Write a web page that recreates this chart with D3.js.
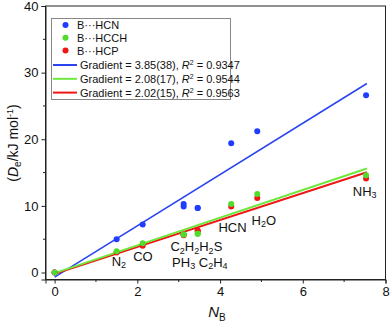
<!DOCTYPE html>
<html>
<head>
<meta charset="utf-8">
<script src="https://cdn.jsdelivr.net/npm/d3@7"></script>
<style>
  body { margin: 0; background: #fff; }
  text { font-family: "Liberation Sans", Arial, sans-serif; fill: #111; }
</style>
</head>
<body>
<script>
// values
var molecules = ["", "N2", "CO", "C2H2", "PH3", "H2S", "C2H4", "HCN", "H2O", "NH3"];
var nB = [0, 1.5, 2.13, 3.12, 3.12, 3.46, 3.46, 4.27, 4.9, 7.53];
var deHCN = [0, 5.0, 7.2, 10.3, 9.9, 9.7, 9.7, 19.4, 21.2, 26.6];
var deHCCH = [0, 3.2, 4.4, 5.7, 5.7, 5.8, 5.8, 10.3, 11.8, 14.6];
var deHCP = [0, 3.0, 4.0, 5.7, 5.6, 6.3, 6.2, 9.9, 11.2, 14.1];

var seriesNames = ["B\u00b7\u00b7\u00b7HCN", "B\u00b7\u00b7\u00b7HCCH", "B\u00b7\u00b7\u00b7HCP"];
var gradients = ["3.85(38)", "2.08(17)", "2.02(15)"];
var rSquared = ["0.9347", "0.9544", "0.9563"];
var slopes = [3.85, 2.08, 2.02];
var intercepts = [-0.7, -0.1, -0.2];
var fitRange = [0, 7.55];

var xTicks = [0, 2, 4, 6, 8];
var yTicks = [0, 10, 20, 30, 40];

// labels: text with _ for subscript, position in data units (baseline)
var labels = [
  { t: "N_2", x: 1.38, y: 1.0 },
  { t: "CO", x: 1.9, y: 1.7 },
  { t: "C_2H_2H_2S", x: 2.8, y: 3.2 },
  { t: "PH_3 C_2H_4", x: 2.84, y: 0.9 },
  { t: "HCN", x: 3.96, y: 6.1 },
  { t: "H_2O", x: 4.76, y: 7.2 },
  { t: "NH_3", x: 7.21, y: 11.5 }
];

var colors = ["#1f3cff", "#4fdc2a", "#f01616"];
var lineColors = ["#2a44f0", "#6ee83c", "#f01616"];
var lineWidths = [1.5, 2, 2];

var W = 390, H = 323;
var x = d3.scaleLinear().domain([-0.22, 8]).range([45.5, 385.5]);
var y = d3.scaleLinear().domain([-1.05, 40]).range([279.5, 6]);

var svg = d3.select("body").append("svg")
  .attr("width", W).attr("height", H);

// frame
svg.append("rect")
  .attr("x", x(-0.22)).attr("y", y(40))
  .attr("width", x(8) - x(-0.22)).attr("height", y(-1.05) - y(40))
  .attr("fill", "none").attr("stroke", "#222").attr("stroke-width", 1);

var xAxis = d3.axisBottom(x).tickValues(xTicks).tickSize(4).tickPadding(3).tickFormat(d3.format("d"));
var gx = svg.append("g").attr("transform", "translate(0," + y(-1.05) + ")").call(xAxis);
gx.append("g").selectAll("line").data([1, 3, 5, 7]).enter().append("line")
  .attr("x1", d => x(d)).attr("x2", d => x(d)).attr("y1", 0).attr("y2", 2.5)
  .attr("stroke", "#222");

var yAxis = d3.axisLeft(y).tickValues(yTicks).tickSize(4).tickPadding(3).tickFormat(d3.format("d"));
var gy = svg.append("g").attr("transform", "translate(" + x(-0.22) + ",0)").call(yAxis);
gy.append("g").selectAll("line").data([5, 15, 25, 35]).enter().append("line")
  .attr("y1", d => y(d)).attr("y2", d => y(d)).attr("x1", 0).attr("x2", -2.5)
  .attr("stroke", "#222");

svg.selectAll(".domain").attr("stroke", "#222");
svg.selectAll(".tick line").attr("stroke", "#222");
svg.selectAll(".tick text").style("font-size", "13px").style("font-family", "Liberation Sans, Arial, sans-serif").attr("fill", "#111");

// axis titles
var xt = svg.append("text").attr("x", 217).attr("y", 317).attr("text-anchor", "middle").style("font-size", "15px");
xt.append("tspan").style("font-style", "italic").text("N");
xt.append("tspan").attr("dy", 4).style("font-size", "10px").text("B");

var yt = svg.append("text").attr("transform", "translate(18,143) rotate(-90)").attr("text-anchor", "middle").style("font-size", "14px");
yt.append("tspan").text("(");
yt.append("tspan").style("font-style", "italic").text("D");
yt.append("tspan").attr("dy", 3).style("font-size", "10px").text("e");
yt.append("tspan").attr("dy", -3).text("/kJ mol");
yt.append("tspan").attr("dy", -5).style("font-size", "9px").text("-1");
yt.append("tspan").attr("dy", 5).text(")");

// fit lines
var fitData = slopes.map(function (s, i) {
  return fitRange.map(function (v) { return { x: v, y: intercepts[i] + s * v }; });
});
var line = d3.line().x(d => x(d.x)).y(d => y(d.y));
[0, 2, 1].forEach(function (i) {
  svg.append("path").datum(fitData[i]).attr("d", line)
    .attr("fill", "none").attr("stroke", lineColors[i]).attr("stroke-width", lineWidths[i]);
});

// points
var seriesVals = [deHCN, deHCP, deHCCH];
var seriesCol = [colors[0], colors[2], colors[1]];
seriesVals.forEach(function (vals, k) {
  svg.append("g").selectAll("circle").data(vals).enter().append("circle")
    .attr("cx", (d, i) => x(nB[i])).attr("cy", d => y(d)).attr("r", 3)
    .attr("fill", seriesCol[k]);
});

// molecule labels
function subText(sel, str, size) {
  var parts = str.split(/(_\d)/);
  var shifted = false;
  parts.forEach(function (p) {
    if (!p) return;
    if (p[0] === "_") {
      sel.append("tspan").attr("dy", 2.5).style("font-size", (size - 4) + "px").text(p.slice(1));
      shifted = true;
    } else {
      var t = sel.append("tspan").text(p);
      if (shifted) { t.attr("dy", -2.5); shifted = false; }
    }
  });
}
labels.forEach(function (l) {
  var t = svg.append("text").attr("x", x(l.x)).attr("y", y(l.y)).style("font-size", "13px");
  subText(t, l.t, 13);
});

// legend
var lg = svg.append("g");
lg.append("rect").attr("x", 51.5).attr("y", 18.5).attr("width", 179).attr("height", 81)
  .attr("fill", "#fff").attr("stroke", "#888").attr("stroke-width", 1);
seriesNames.forEach(function (n, i) {
  var yy = 25 + i * 12.8;
  lg.append("circle").attr("cx", 65.5).attr("cy", yy).attr("r", 3).attr("fill", colors[i]);
  lg.append("text").attr("x", 77).attr("y", yy + 4).style("font-size", "11px").text(n);
});
gradients.forEach(function (g, i) {
  var yy = 65 + i * 13.8;
  lg.append("line").attr("x1", 53).attr("x2", 77).attr("y1", yy).attr("y2", yy)
    .attr("stroke", lineColors[i]).attr("stroke-width", 2);
  var t = lg.append("text").attr("x", 80).attr("y", yy + 4).style("font-size", "11px");
  t.append("tspan").text("Gradient = " + g + ", ");
  t.append("tspan").style("font-style", "italic").text("R");
  t.append("tspan").attr("dy", -4).style("font-size", "7px").text("2");
  t.append("tspan").attr("dy", 4).text(" = " + rSquared[i]);
});
</script>
</body>
</html>
